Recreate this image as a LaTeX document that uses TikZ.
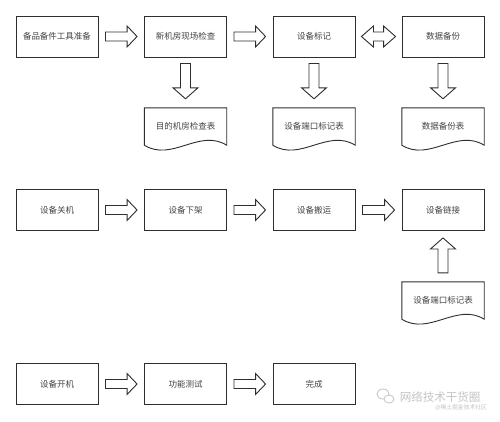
\documentclass[tikz,border=0pt]{standalone}
\usepackage{fontspec}
\setmainfont{Noto Sans CJK SC}
\usetikzlibrary{calc}
\definecolor{lncol}{HTML}{2E2E2E}
\definecolor{txtcol}{HTML}{444444}
\definecolor{wmcol}{HTML}{C4C4C4}
\tikzset{
  ln/.style={draw=lncol, line width=0.9pt, line join=miter},
  boxnode/.style={ln, rectangle, minimum width=82pt, minimum height=41pt, inner sep=0pt,
    font=\fontsize{8.5}{10}\selectfont, text=txtcol},
  docnode/.style={rectangle, minimum width=82pt, minimum height=37pt, inner sep=0pt,
    font=\fontsize{8.5}{10}\selectfont, text=txtcol},
}
% right-pointing block arrow
\newcommand\rarrow[2]{\draw[ln] let \p1=($(#1.east)+(7,0)$), \p2=($(#2.west)+(-7,0)$) in
  ($(\p1)+(0,-4.5)$) -- ($(\x2,\y1)+(-10,-4.5)$) -- ($(\x2,\y1)+(-10,-10.5)$) -- (\x2,\y1)
  -- ($(\x2,\y1)+(-10,10.5)$) -- ($(\x2,\y1)+(-10,4.5)$) -- ($(\p1)+(0,4.5)$) -- cycle;}
% double block arrow
\newcommand\lrarrow[2]{\draw[ln] let \p1=($(#1.east)+(6,0)$), \p2=($(#2.west)+(-6,0)$) in
  (\p1) -- ($(\p1)+(12,-10.5)$) -- ($(\p1)+(12,-4.5)$) -- ($(\x2,\y1)+(-12,-4.5)$)
  -- ($(\x2,\y1)+(-12,-10.5)$) -- (\x2,\y1) -- ($(\x2,\y1)+(-12,10.5)$) -- ($(\x2,\y1)+(-12,4.5)$)
  -- ($(\p1)+(12,4.5)$) -- ($(\p1)+(12,10.5)$) -- cycle;}
% down-pointing block arrow
\newcommand\darrow[2]{\draw[ln] let \p1=($(#1.south)+(0,6)$), \p2=($(#2.north)+(0,-9)$) in
  ($(\p1)+(-5,0)$) -- ($(\x1,\y2)+(-5,-11)$) -- ($(\x1,\y2)+(-12.5,-11)$) -- (\x1,\y2)
  -- ($(\x1,\y2)+(12.5,-11)$) -- ($(\x1,\y2)+(5,-11)$) -- ($(\p1)+(5,0)$) -- cycle;}
% up-pointing block arrow from #1 (below) to #2 (above)
\newcommand\uarrow[2]{\draw[ln] let \p1=($(#1.north)+(0,-9)$), \p2=($(#2.south)+(0,7)$) in
  ($(\p1)+(-5,0)$) -- ($(\x1,\y2)+(-5,11)$) -- ($(\x1,\y2)+(-12.5,11)$) -- (\x1,\y2)
  -- ($(\x1,\y2)+(12.5,11)$) -- ($(\x1,\y2)+(5,11)$) -- ($(\p1)+(5,0)$) -- cycle;}
% document outline around a docnode
\newcommand\docshape[1]{\draw[ln] let \p1=(#1.north west), \p2=(#1.south east) in
  (\p1) -- (\x2,\y1) -- (\p2)
  .. controls ($(\p2)!0.333!(\x1,\y2)+(0,-17)$) and ($(\p2)!0.667!(\x1,\y2)+(0,17)$) .. (\x1,\y2)
  -- cycle;}
\begin{document}
\begin{tikzpicture}[x=1pt,y=-1pt]
\useasboundingbox[fill=white] (0,0) rectangle (500,421);
% row 1
\node[boxnode] (a1) at (57,36.5) {备品备件工具准备};
\node[boxnode] (a2) at (185.5,36.5) {新机房现场检查};
\node[boxnode] (a3) at (314,36.5) {设备标记};
\node[boxnode] (a4) at (443,36.5) {数据备份};
\node[docnode] (d2) at (185.5,126.5) {目的机房检查表};
\node[docnode] (d3) at (314,126.5) {设备端口标记表};
\node[docnode] (d4) at (443,126.5) {数据备份表};
\docshape{d2}\docshape{d3}\docshape{d4}
\rarrow{a1}{a2}
\rarrow{a2}{a3}
\lrarrow{a3}{a4}
\darrow{a2}{d2}
\darrow{a3}{d3}
\darrow{a4}{d4}
% row 2
\node[boxnode] (b1) at (57,210) {设备关机};
\node[boxnode] (b2) at (185.5,210) {设备下架};
\node[boxnode] (b3) at (314,210) {设备搬运};
\node[boxnode] (b4) at (443,210) {设备链接};
\node[docnode] (e4) at (443,300.5) {设备端口标记表};
\docshape{e4}
\rarrow{b1}{b2}
\rarrow{b2}{b3}
\rarrow{b3}{b4}
\uarrow{e4}{b4}
% row 3
\node[boxnode] (c1) at (57,384) {设备开机};
\node[boxnode] (c2) at (185.5,384) {功能测试};
\node[boxnode] (c3) at (314,384) {完成};
\rarrow{c1}{c2}
\rarrow{c2}{c3}
% watermark
\draw[wmcol, line width=0.8pt] (383,394) ellipse [x radius=6, y radius=5];
\draw[wmcol, line width=0.8pt, fill=white] (389,399) ellipse [x radius=5, y radius=4];
\node[text=wmcol, font=\fontsize{11.5}{13}\selectfont, inner sep=0pt] (wm1) at (440,397) {网络技术干货圈};
\node[text=wmcol, font=\fontsize{5.8}{7}\selectfont, inner sep=0pt] (wm2) at (461,408) {@稀土掘金技术社区};
\end{tikzpicture}
\end{document}
